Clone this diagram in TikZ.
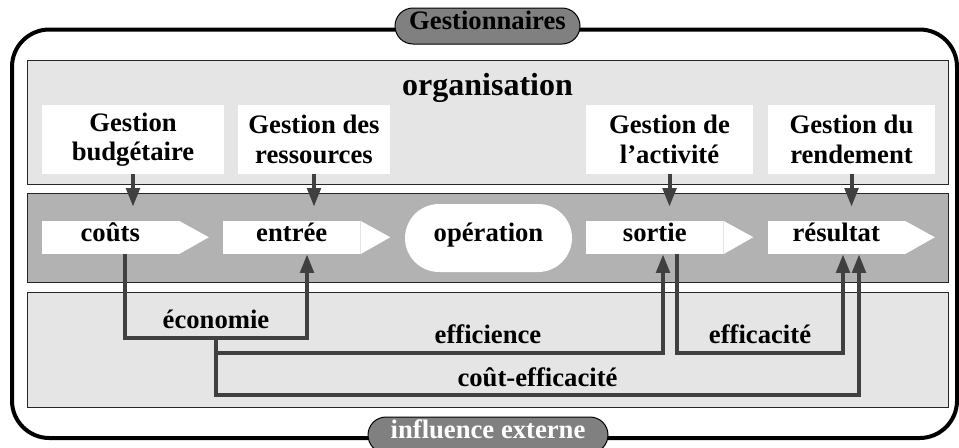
\documentclass[tikz,border=0pt]{standalone}
\usepackage{fontspec}
\setmainfont{Liberation Serif}
\usetikzlibrary{arrows.meta,shapes.misc}
\tikzset{
  band/.style={draw=black!85,line width=0.75pt},
  txt/.style={font=\bfseries\fontsize{20}{22}\selectfont},
  gbox/.style={txt,fill=white,align=center,inner sep=0pt,minimum height=51.75pt},
  sigbody/.style={txt,fill=white,inner sep=0pt,minimum width=102.4pt,minimum height=24.75pt,text height=0.75em,text depth=0.2em},
  opbox/.style={txt,rounded rectangle,fill=white,inner sep=0pt,minimum width=125.25pt,minimum height=51pt,text height=0.75em,text depth=0.2em},
  pill/.style={txt,rounded rectangle,draw=black,line width=0.75pt,fill=black!50,inner sep=0pt,minimum height=27pt,text height=0.75em,text depth=0.2em},
  link/.style={draw=black!75,line width=3pt,-{Triangle[length=14pt,width=10pt]}},
}
\begin{document}
\begin{tikzpicture}[x=0.75pt,y=-0.75pt]
\useasboundingbox (0,0) rectangle (959,447);
\draw[line width=3pt,rounded corners=28pt](12,29.5) rectangle (957,438);
\filldraw[band,fill=black!10](27,60) rectangle (948,184);
\filldraw[band,fill=black!30](27,193) rectangle (948,282);
\filldraw[band,fill=black!10](27,292) rectangle (948,407);
\node[pill,minimum width=138.75pt] (gest) at (487.5,26) {Gestionnaires};
\node[pill,text=white,minimum width=180pt] (infl) at (488,435) {influence externe};
\node[font=\bfseries\fontsize{24}{28}\selectfont,anchor=base] (org) at (487.5,95) {organisation};
\foreach \gx/\gw/\gn/\gt in {133/182/gb/{Gestion\\budgétaire},314/152/gr/{Gestion des\\ressources},669.5/167/ga/{Gestion de\\l'activité},851.5/167/gd/{Gestion du\\rendement}}
  {\node[gbox,minimum width=\gw*0.75pt] (\gn) at (\gx,139.5) {\gt};}
\foreach \sx/\sn/\st in {110.25/couts/coûts,291.75/entree/entrée,654.75/sortie/sortie,836.25/resultat/résultat}
  {\node[sigbody] (\sn) at (\sx,237.5) {\st};
   \fill[white](\sn.north east)--++(30,16.5)--(\sn.south east)--cycle;}
\node[opbox] (oper) at (488.5,238) {opération};
\foreach \gn/\sn in {gb/couts,gr/entree,ga/sortie,gd/resultat}
  {\draw[link,shorten >=10.5pt](\gn.south)--(\gn.south |- \sn.north);}
\coordinate (split) at (216,338);
\draw[link](couts.south -| 125,0) |- (307,338)--(entree.south -| 307,0);
\draw[link](split) |- (663,353)--(sortie.south -| 663,0);
\draw[link](split) |- (859,395)--(resultat.south -| 859,0);
\draw[link](sortie.south -| 677,0) |- (843,353)--(resultat.south -| 843,0);
\node[txt,anchor=base] (eco) at (216,328) {économie};
\node[txt,anchor=base] (effi) at (488,343) {efficience};
\node[txt,anchor=base] (effa) at (760,343) {efficacité};
\node[txt,anchor=base] (cout) at (537.5,386) {coût-efficacité};
\end{tikzpicture}
\end{document}
